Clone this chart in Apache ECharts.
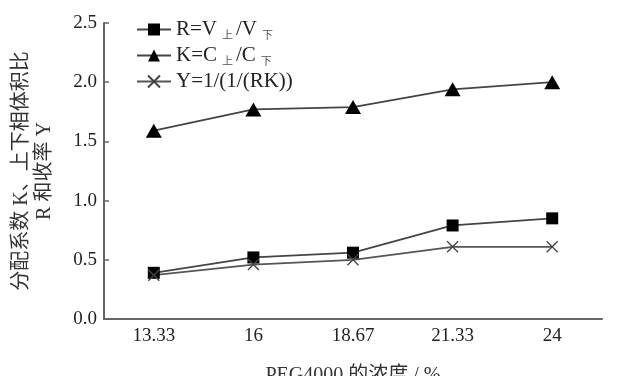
<!DOCTYPE html>
<html><head><meta charset="utf-8">
<script src="https://cdn.jsdelivr.net/npm/echarts@6/dist/echarts.min.js"></script>
<style>html,body{margin:0;padding:0;background:#fff}#c{width:625px;height:376px}</style>
</head><body><div id="c"></div>
<script>
const categories = ['13.33', '16', '18.67', '21.33', '24'];
const seriesR = [0.39, 0.52, 0.56, 0.79, 0.85];
const seriesK = [1.59, 1.77, 1.79, 1.94, 2.00];
const seriesY = [0.37, 0.46, 0.50, 0.61, 0.61];
const yTicks = [0, 0.5, 1.0, 1.5, 2.0, 2.5];

const FONT = '"Liberation Serif", "Noto Sans CJK SC", serif';
const chart = echarts.init(document.getElementById('c'), null, {renderer: 'canvas'});
const legendRich = {
  a: {fontFamily: FONT, fontSize: 21, color: '#222'},
  s: {fontFamily: FONT, fontSize: 11, color: '#555', padding: [14, 3, 0, 5]}
};
const names = ['R', 'K', 'Y'];
const legendText = {
  R: '{a|R=V}{s|上}{a|/V}{s|下}',
  K: '{a|K=C}{s|上}{a|/C}{s|下}',
  Y: '{a|Y=1/(1/(RK))}'
};
chart.setOption({
  animation: false,
  grid: {left: 104, right: 23, top: 23, bottom: 57, containLabel: false, outerBoundsMode: 'none'},
  legend: {
    orient: 'vertical', left: 131, top: 14,
    itemWidth: 34, itemHeight: 15, itemGap: 3,
    data: names,
    formatter: n => legendText[n],
    textStyle: {rich: legendRich, fontFamily: FONT, fontSize: 21}
  },
  xAxis: {
    type: 'category', data: categories, boundaryGap: true,
    name: 'PEG4000 的浓度 / %', nameLocation: 'middle', nameGap: 47,
    nameTextStyle: {fontFamily: FONT, fontSize: 20, color: '#333'},
    axisLine: {lineStyle: {color: '#666', width: 2}},
    axisTick: {inside: true, length: 5, lineStyle: {color: '#666', width: 1.5}},
    axisLabel: {fontFamily: FONT, fontSize: 19, color: '#222', margin: 8}
  },
  yAxis: {
    type: 'value', min: 0, max: 2.5, interval: 0.5,
    name: '分配系数 K、上下相体积比\nR 和收率 Y', nameLocation: 'middle', nameGap: 48,
    nameTextStyle: {fontFamily: FONT, fontSize: 20, color: '#333', lineHeight: 23},
    axisLine: {show: true, lineStyle: {color: '#666', width: 2}},
    axisTick: {show: true, inside: true, length: 5, lineStyle: {color: '#666', width: 1.5}},
    splitLine: {show: false},
    axisLabel: {fontFamily: FONT, fontSize: 19, color: '#222', margin: 7,
      formatter: v => yTicks.includes(v) ? v.toFixed(1) : ''}
  },
  series: [
    {name: 'R', type: 'line', data: seriesR, symbol: 'rect', symbolSize: 12,
     lineStyle: {color: '#444', width: 1.8}, itemStyle: {color: '#000'}},
    {name: 'K', type: 'line', data: seriesK, symbol: 'triangle', symbolSize: [16, 14],
     lineStyle: {color: '#444', width: 1.8}, itemStyle: {color: '#000'}},
    {name: 'Y', type: 'line', data: seriesY, symbol: 'path://M0,0L10,10M10,0L0,10', symbolSize: 11,
     lineStyle: {color: '#555', width: 1.8},
     itemStyle: {color: 'rgba(0,0,0,0)', borderColor: '#444', borderWidth: 1.3}}
  ]
});
</script></body></html>
